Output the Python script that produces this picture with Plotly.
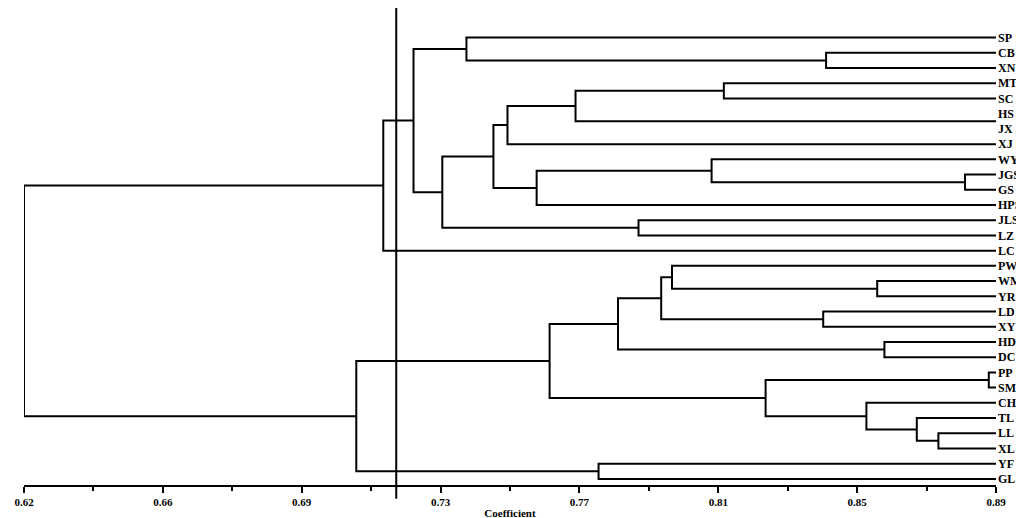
import plotly.graph_objects as go

leaves = ["SP","CB","XN","MTS","SC","HS","JX","XJ","WYS","JGS","GS","HPS","JLS","LZ","LC",
          "PW","WM","YR","LD","XY","HD","DC","PP","SM","CH","TL","LL","XL","YF","GL"]
# explicit tree (name: (left, right, height))
tree = {
 "cbxn": ("CB","XN",0.8428), "hsjx": ("HS","JX",0.8903), "mtssc": ("MTS","SC",0.8144),
 "a1": ("mtssc","hsjx",0.7732), "a2": ("a1","XJ",0.7543),
 "jgsgs": ("JGS","GS",0.8814), "wys": ("WYS","jgsgs",0.8110), "hps": ("wys","HPS",0.7624),
 "a3": ("a2","hps",0.7504), "jlslz": ("JLS","LZ",0.7907), "a4": ("a3","jlslz",0.7362),
 "spc": ("SP","cbxn",0.7429), "top": ("spc","a4",0.7282), "toplc": ("top","LC",0.7198),
 "wmyr": ("WM","YR",0.857), "pw": ("PW","wmyr",0.800), "ldxy": ("LD","XY",0.842),
 "b1": ("pw","ldxy",0.797), "hddc": ("HD","DC",0.859), "b2": ("b1","hddc",0.785),
 "ppsm": ("PP","SM",0.888), "llxl": ("LL","XL",0.874), "tl": ("TL","llxl",0.868),
 "ch": ("CH","tl",0.854), "b3": ("ppsm","ch",0.826), "b4": ("b2","b3",0.766),
 "yfgl": ("YF","GL",0.7796), "bot": ("b4","yfgl",0.7123), "root": ("toplc","bot",0.62),
}
leaf_end = 0.89
cut = 0.7234
tick_vals = [0.62 + k * 0.27 / 7 for k in range(8)]
tick_text = ["0.62","0.66","0.69","0.73","0.77","0.81","0.85","0.89"]

pos = {n: (leaf_end, i) for i, n in enumerate(leaves)}
xs, ys = [], []
def place(n):
    if n in pos:
        return pos[n]
    l, r, h = tree[n]
    lx, ly = place(l); rx, ry = place(r)
    xs.extend([lx, h, h, rx, None]); ys.extend([ly, ly, ry, ry, None])
    pos[n] = (h, (ly + ry) / 2)
    return pos[n]
place("root")

fig = go.Figure()
fig.add_trace(go.Scatter(x=xs, y=ys, mode="lines", line=dict(color="black", width=2),
                         hoverinfo="skip", showlegend=False, cliponaxis=False))
minor = [(tick_vals[i] + tick_vals[i+1]) / 2 for i in range(7)]
fig.add_shape(type="line", xref="x", yref="paper", x0=cut, x1=cut, y0=-0.03, y1=1.05,
              line=dict(color="black", width=2))
fig.update_layout(
    width=1024, height=518, plot_bgcolor="white", paper_bgcolor="white",
    margin=dict(l=16, r=36, t=22, b=41),
    font=dict(family="Liberation Serif", size=11, color="black"),
    xaxis=dict(range=[0.62, 0.89], tickvals=tick_vals, ticktext=tick_text, showgrid=False,
               zeroline=False, showline=True, linecolor="black", linewidth=2, automargin=False,
               ticks="outside", ticklen=6, tickwidth=1.5, tickcolor="black",
               minor=dict(tickvals=minor, ticks="outside", ticklen=4, tickcolor="black"),
               tickfont=dict(family="Liberation Serif", size=11, weight="bold"),
               title=dict(text="<b>Coefficient</b>", standoff=2, font=dict(size=11))),
    yaxis=dict(range=[29.4, -0.5], tickvals=list(range(len(leaves))), ticktext=leaves,
               side="right", showgrid=False, zeroline=False, showline=False, ticks="",
               ticklabelstandoff=1, automargin=False,
               tickfont=dict(family="Liberation Serif", size=12, weight="bold")),
)
fig.write_html("out.html")
